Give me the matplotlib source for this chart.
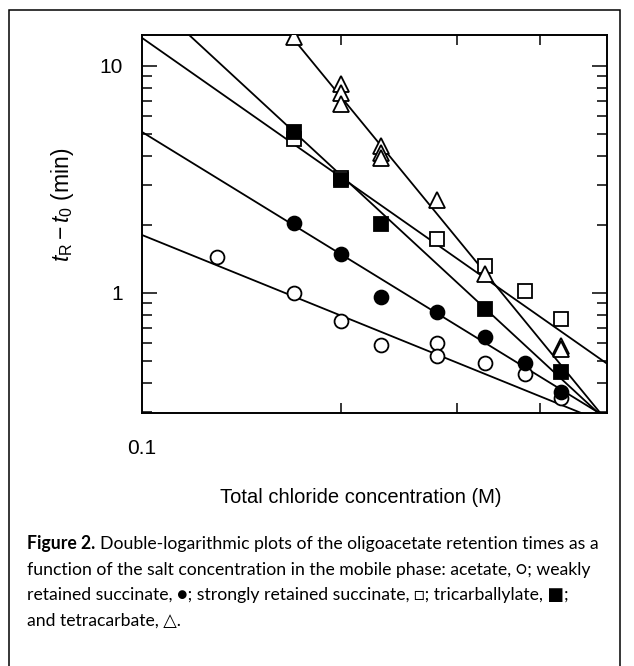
import numpy as np
import matplotlib
matplotlib.use('Agg')
import matplotlib.pyplot as plt
from matplotlib.ticker import LogLocator, NullFormatter, FixedLocator, NullLocator
from matplotlib.patches import Rectangle

plt.rcParams['font.family'] = ['Liberation Sans', 'DejaVu Sans']
plt.rcParams['mathtext.fontset'] = 'custom'
plt.rcParams['mathtext.rm'] = 'Liberation Sans'
plt.rcParams['mathtext.it'] = 'Liberation Sans:italic'

# values: total chloride conc (M) vs t_R - t_0 (min)
acetate_x = [0.13, 0.17, 0.20, 0.23, 0.28, 0.28, 0.33, 0.38, 0.43]
acetate_y = [1.44, 1.00, 0.753, 0.59, 0.602, 0.528, 0.493, 0.44, 0.345]

weak_succ_x = [0.17, 0.20, 0.23, 0.28, 0.33, 0.38, 0.43]
weak_succ_y = [2.03, 1.485, 0.96, 0.825, 0.64, 0.49, 0.366]

strong_succ_x = [0.17, 0.20, 0.28, 0.33, 0.38, 0.43]
strong_succ_y = [4.77, 3.2, 1.73, 1.315, 1.02, 0.768]

tricarb_x = [0.17, 0.20, 0.23, 0.33, 0.43]
tricarb_y = [5.12, 3.15, 2.02, 0.85, 0.45]

tetracarb_x = [0.17, 0.20, 0.20, 0.20, 0.23, 0.23, 0.23, 0.28, 0.33, 0.43, 0.43]
tetracarb_y = [13.4, 8.3, 7.6, 6.8, 4.44, 4.14, 3.93, 2.57, 1.21, 0.584, 0.567]

# regression lines: value at 0.1 M and log-log slope
fit_at_01 = [1.80, 5.12, 13.3, 21.3, 85.7]
fit_slope = [-1.18, -1.79, -2.04, -2.69, -3.55]

series = [
    (acetate_x, acetate_y, 'o', 'white', 10),
    (weak_succ_x, weak_succ_y, 'o', 'black', 10),
    (strong_succ_x, strong_succ_y, 's', 'white', 10.5),
    (tricarb_x, tricarb_y, 's', 'black', 10.5),
    (tetracarb_x, tetracarb_y, '^', 'white', 11),
]

fig = plt.figure(figsize=(6.34, 6.66), dpi=100)
ax = fig.add_axes([0.224, 0.380, 0.733, 0.5675])

xs = np.logspace(-1, np.log10(0.505), 60)
for a, b in zip(fit_at_01, fit_slope):
    ax.plot(xs, a * (xs / 0.1) ** b, color='black', lw=1.3, zorder=2)

for x, y, m, fc, ms in series:
    ax.plot(x, y, linestyle='none', marker=m, ms=ms, mfc=fc, mec='black',
            mew=1.3, zorder=3)

ax.set_xscale('log')
ax.set_yscale('log')
ax.set_xlim(0.1, 0.505)
ax.set_ylim(0.296, 13.7)

ax.xaxis.set_major_locator(FixedLocator([0.2, 0.3, 0.4]))
ax.xaxis.set_major_formatter(NullFormatter())
ax.xaxis.set_minor_locator(NullLocator())
ax.set_yticks([1, 10])
ax.set_yticklabels(['1', '10'])
ax.yaxis.set_minor_locator(LogLocator(subs=np.arange(2, 10)))
ax.yaxis.set_minor_formatter(NullFormatter())

ax.tick_params(which='both', direction='in', top=True, right=True, width=1.1)
ax.tick_params(axis='y', which='major', length=11, labelsize=15, pad=14)
ax.tick_params(axis='y', which='minor', length=7)
ax.tick_params(axis='x', which='major', length=7)
for s in ax.spines.values():
    s.set_linewidth(1.4)

ax.text(0.1, -0.093, '0.1', transform=ax.get_xaxis_transform(),
        ha='center', va='center', fontsize=15)

fig.text(62 / 634, 1 - 205 / 666, r'$t_\mathrm{R} - t_0$ (min)', rotation=90,
         ha='center', va='center', fontsize=16.5)
fig.text(361 / 634, 1 - 503 / 666, 'Total chloride concentration (M)',
         ha='center', va='baseline', fontsize=14.5)

# outer frame
fig.patches.append(Rectangle((9 / 634, -0.01), 611 / 634, 1 - 10 / 666 + 0.01,
                             transform=fig.transFigure, fill=False,
                             lw=1.1, ec='black'))

# caption
cap_font = ['Lato', 'DejaVu Sans']
cap_size = 12.7
x0 = 27 / 634
lines = [
    'Double-logarithmic plots of the oligoacetate retention times as a',
    'function of the salt concentration in the mobile phase: acetate, \u25cb; weakly',
    'retained succinate, \u25cf; strongly retained succinate, \u25a1; tricarballylate, \u25a0;',
    'and tetracarbate, \u25b3.',
]
base_y = [549, 575, 600, 626]

r = fig.canvas.get_renderer()
t = fig.text(x0, 1 - base_y[0] / 666, 'Figure 2.', fontsize=cap_size,
             fontweight='bold', family=cap_font, va='baseline')
bb = t.get_window_extent(r)
fig.text((bb.x1 + 5) / 634, 1 - base_y[0] / 666, lines[0], fontsize=cap_size,
         family=cap_font, va='baseline')
for txt, yb in zip(lines[1:], base_y[1:]):
    fig.text(x0, 1 - yb / 666, txt, fontsize=cap_size, family=cap_font,
             va='baseline')

fig.savefig('out.png', dpi=100)
